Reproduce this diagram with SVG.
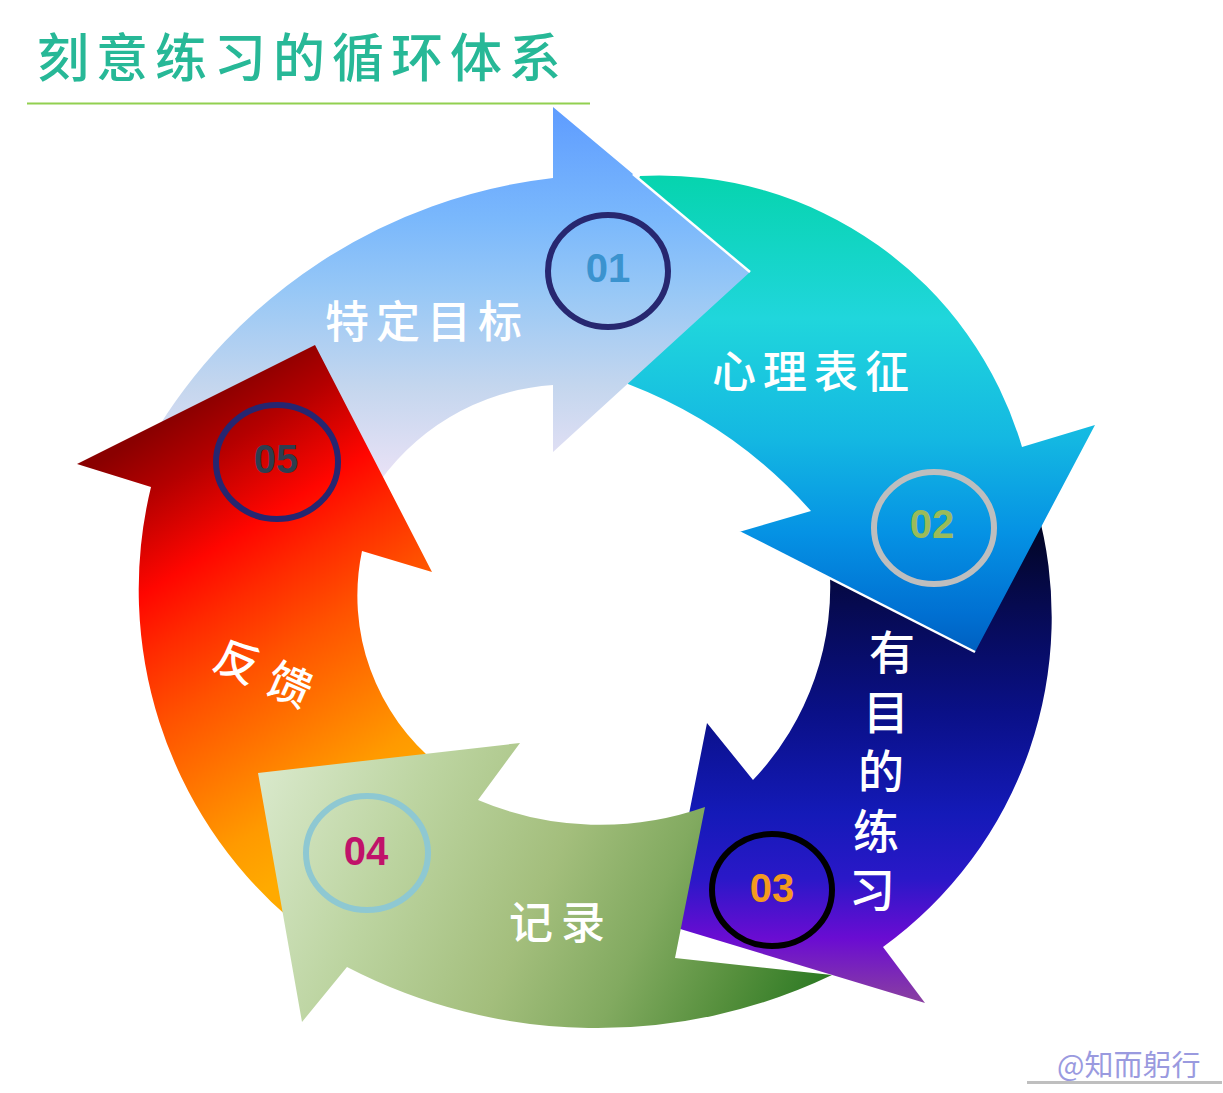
<svg xmlns="http://www.w3.org/2000/svg" width="1223" height="1093" viewBox="0 0 1223 1093">
<defs>
<linearGradient id="g01" gradientUnits="userSpaceOnUse" x1="0" y1="107" x2="0" y2="480">
<stop offset="0" stop-color="#5E9CFF"/><stop offset="0.3" stop-color="#7AB8FC"/><stop offset="0.5" stop-color="#98C8F6"/><stop offset="0.75" stop-color="#C4D6EE"/><stop offset="1" stop-color="#EAE2F6"/>
</linearGradient>
<linearGradient id="g02" gradientUnits="userSpaceOnUse" x1="0" y1="176" x2="0" y2="652">
<stop offset="0" stop-color="#06D4AE"/><stop offset="0.3" stop-color="#20D6DC"/><stop offset="0.55" stop-color="#14B8E2"/><stop offset="0.75" stop-color="#0592E4"/><stop offset="0.92" stop-color="#0070D2"/><stop offset="1" stop-color="#0060C0"/>
</linearGradient>
<linearGradient id="g03" gradientUnits="userSpaceOnUse" x1="0" y1="505" x2="0" y2="1003">
<stop offset="0" stop-color="#010418"/><stop offset="0.2" stop-color="#060A50"/><stop offset="0.42" stop-color="#0A1088"/><stop offset="0.62" stop-color="#141AB8"/><stop offset="0.75" stop-color="#2A18C8"/><stop offset="0.87" stop-color="#6A0CD2"/><stop offset="1" stop-color="#8A40A0"/>
</linearGradient>
<linearGradient id="g04" gradientUnits="userSpaceOnUse" x1="270" y1="760" x2="820" y2="1010">
<stop offset="0" stop-color="#D8E8CA"/><stop offset="0.25" stop-color="#BCD4A0"/><stop offset="0.5" stop-color="#A3BE7C"/><stop offset="0.68" stop-color="#82AA60"/><stop offset="0.85" stop-color="#558F3C"/><stop offset="1" stop-color="#2A7822"/>
</linearGradient>
<linearGradient id="g05" gradientUnits="userSpaceOnUse" x1="230" y1="380" x2="470" y2="760">
<stop offset="0" stop-color="#8A0000"/><stop offset="0.12" stop-color="#B40000"/><stop offset="0.3" stop-color="#FF0600"/><stop offset="0.42" stop-color="#FF2A00"/><stop offset="0.57" stop-color="#FF5200"/><stop offset="0.7" stop-color="#FF7000"/><stop offset="0.88" stop-color="#FF9A00"/><stop offset="1" stop-color="#FFAA00"/>
</linearGradient>
</defs>
<style>
.num{font-family:"Liberation Sans",Arial,sans-serif;font-weight:bold;font-size:40px;text-anchor:middle}
.lbl{font-family:"Noto Sans CJK SC",sans-serif;font-size:44px;font-weight:500;fill:#FFFFFF}
.vl{text-anchor:middle;font-size:46px}
.ring{fill:none;stroke-width:6}
.edge{fill:none;stroke:#FFFFFF;stroke-width:2.5}
.title{font-family:"Noto Sans CJK SC",sans-serif;font-size:52px;font-weight:500;fill:#27B897}
.wm{font-family:"Noto Sans CJK SC",sans-serif;font-size:29px;fill:#9A9ADF}
</style>
<rect width="1223" height="1093" fill="#FFFFFF"/>

<g id="title">
<text class="title" x="37 96 155 214 273 332 391 450 509" y="77">刻意练习的循环体系</text>
<line x1="27" y1="103.5" x2="590" y2="103.5" stroke="#92D050" stroke-width="2"/>
</g>

<g id="connectors"/>

<g id="node-03">
<path d="M1036,505 A407,407 0 0 1 883,947 L925,1003 L667,925 L707,723 L753,780 A281,281 0 0 0 829,560 Z" fill="url(#g03)"/>
<ellipse class="ring" cx="772" cy="890" rx="60" ry="56" stroke="#000000"/>
<text class="num" x="772" y="902" fill="#F39A1E">03</text>
<text class="lbl vl" x="892" y="669">有</text>
<text class="lbl vl" x="886" y="729">目</text>
<text class="lbl vl" x="881" y="788">的</text>
<text class="lbl vl" x="876" y="848">练</text>
<text class="lbl vl" x="872" y="907">习</text>
</g>

<g id="node-02">
<path d="M640,176 A378,378 0 0 1 1022,447 L1095,425 L975,652 L739,532 L811,511 A470,470 0 0 0 628,384 L600,280 Z" fill="url(#g02)"/>
<path class="edge" d="M739,532 L975,652"/>
<ellipse class="ring" cx="934" cy="528" rx="60" ry="56" stroke="#BEBEBE"/>
<text class="num" x="932" y="538" fill="#9BBB59">02</text>
<text class="lbl" x="712 763 814 865" y="388">心理表征</text>
</g>

<g id="node-01">
<path d="M553,178 L553,107 L750,272 L553,452 L553,385 A232,232 0 0 0 372,493 L150,441 A538,538 0 0 1 553,178 Z" fill="url(#g01)"/>
<path class="edge" d="M633,174 L750,272"/>
<ellipse class="ring" cx="608" cy="271" rx="60" ry="56" stroke="#272770"/>
<text class="num" x="608" y="282" fill="#3B93CF">01</text>
<text class="lbl" x="325 376 427 478" y="338">特定目标</text>
</g>

<g id="node-05">
<path d="M77,464 L315,345 L432,572 L362,551 A217,217 0 0 0 440,766 L289,918 A434,434 0 0 1 151,487 Z" fill="url(#g05)"/>
<ellipse class="ring" cx="277" cy="462" rx="61" ry="57" stroke="#262670"/>
<text class="num" x="276" y="473" fill="#2D3E50">05</text>
<g transform="translate(263,673) rotate(24)">
<text class="lbl" x="-50 7" y="16">反馈</text>
</g>
</g>

<g id="node-04">
<path d="M258,773 L520,743 L478,800 A315,315 0 0 0 705,807 L675,958 L832,975 A544,544 0 0 1 347,967 L302,1022 Z" fill="url(#g04)"/>
<ellipse class="ring" cx="367" cy="853" rx="61" ry="57" stroke="#8EC8D2"/>
<text class="num" x="366" y="865" fill="#C0126A">04</text>
<text class="lbl" x="509 561" y="939">记录</text>
</g>

<g id="watermark">
<text class="wm" x="1057" y="1076">@知而躬行</text>
<line x1="1027" y1="1082.5" x2="1222" y2="1082.5" stroke="#BFBFBF" stroke-width="3"/>
</g>
</svg>
